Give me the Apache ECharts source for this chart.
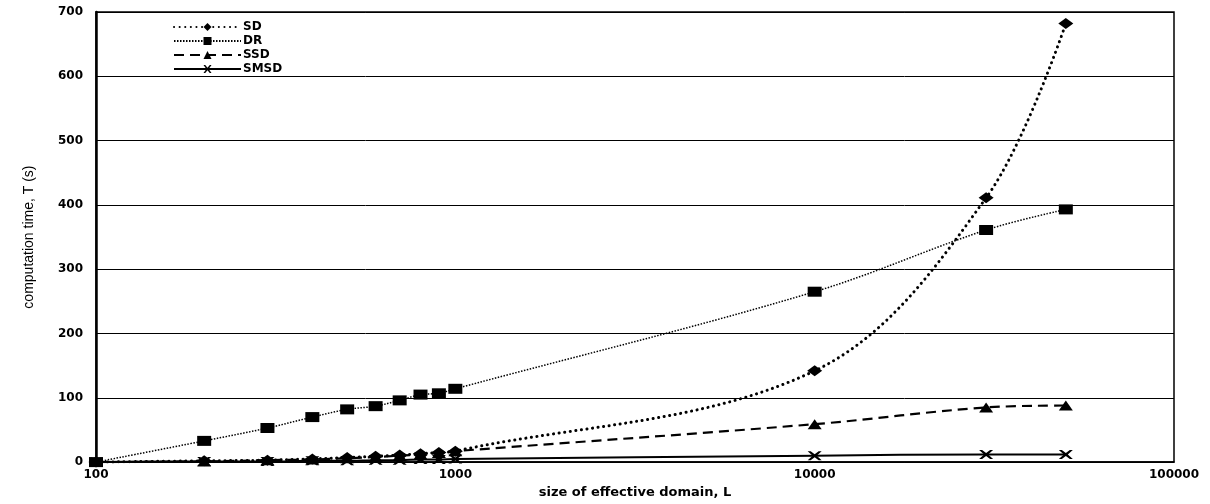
<!DOCTYPE html>
<html>
<head>
<meta charset="utf-8">
<script src="https://cdn.jsdelivr.net/npm/echarts@6/dist/echarts.min.js"></script>
<style>
  html, body { margin: 0; padding: 0; background: #fff; }
  #chart { width: 1210px; height: 504px; }
</style>
</head>
<body>
<div id="chart"></div>
<script>
// size of effective domain, L
var domainSize = [100, 200, 300, 400, 500, 600, 700, 800, 900, 1000, 10000, 30000, 50000];
// computation time, T (s)
var sdTime   = [0, 2, 3, 5, 7, 9, 11, 13, 15, 17, 142, 411, 682];
var drTime   = [0, 33, 53, 70, 82, 87, 96, 105, 107, 114, 265, 361, 393];
var ssdTime  = [0, 1, 3, 4, 6, 8, 10, 12, 14, 17, 59, 85, 88];
var smsdTime = [0, 1, 1, 2, 2, 3, 3, 4, 4, 5, 10, 12, 12];
var yTicks = [0, 100, 200, 300, 400, 500, 600, 700];

function pairs(ys) {
  return domainSize.map(function (x, i) { return [x, ys[i]]; });
}

var crossPath = 'path://M0,0 L3,0 L7,3 L11,0 L14,0 L9,4.5 L14,9 L11,9 L7,6 L3,9 L0,9 L5,4.5 Z';
var tickFont = { color: '#000', fontFamily: 'DejaVu Sans', fontWeight: 'bold', fontSize: 12 };

var chart = echarts.init(document.getElementById('chart'));
var option = {
  animation: false,
  backgroundColor: '#fff',
  grid: {
    left: 96, right: 36, top: 12, bottom: 37,
    show: true, borderColor: '#000', borderWidth: 1.5
  },
  legend: {
    orient: 'vertical',
    left: 168, top: 16,
    itemWidth: 67, itemHeight: 10, itemGap: 2,
    textStyle: { color: '#000', fontFamily: 'DejaVu Sans', fontWeight: 'bold', fontSize: 12, lineHeight: 10, padding: [0, 0, 0, -3] },
    data: ['SD', 'DR', 'SSD', 'SMSD']
  },
  xAxis: {
    type: 'log', logBase: 10, min: 100, max: 100000,
    name: 'size of effective domain, L',
    nameLocation: 'middle', nameGap: 22,
    nameTextStyle: { color: '#000', fontFamily: 'DejaVu Sans', fontWeight: 'bold', fontSize: 13 },
    axisLine: { lineStyle: { color: '#000', width: 1.5 } },
    axisTick: { show: false },
    axisLabel: Object.assign({ margin: 7, formatter: function (v) { return String(Math.round(v)); } }, tickFont),
    splitLine: { show: false },
    minorSplitLine: { show: false }
  },
  yAxis: {
    type: 'value', min: yTicks[0], max: yTicks[yTicks.length - 1], interval: 100,
    name: 'computation time, T (s)',
    nameLocation: 'middle', nameGap: 60,
    nameTextStyle: { color: '#000', fontFamily: 'Liberation Sans', fontSize: 14 },
    axisLine: { show: true, lineStyle: { color: '#000', width: 2.5 } },
    axisTick: { show: false },
    axisLabel: Object.assign({ margin: 13 }, tickFont),
    splitLine: { lineStyle: { color: '#000', width: 1 } }
  },
  series: [
    {
      name: 'SD', type: 'line', data: pairs(sdTime), smooth: 0.35,
      symbol: 'diamond', symbolSize: [15, 11],
      itemStyle: { color: '#000' },
      lineStyle: { color: '#000', width: 3, type: [0.1, 5.5], cap: 'round' }
    },
    {
      name: 'DR', type: 'line', data: pairs(drTime), smooth: 0.35,
      symbol: 'rect', symbolSize: [14, 10],
      itemStyle: { color: '#000' },
      lineStyle: { color: '#000', width: 1.5, type: [1.5, 1.5] }
    },
    {
      name: 'SSD', type: 'line', data: pairs(ssdTime), smooth: 0.35,
      symbol: 'triangle', symbolSize: [14, 10],
      itemStyle: { color: '#000' },
      lineStyle: { color: '#000', width: 2.2, type: [10, 6] }
    },
    {
      name: 'SMSD', type: 'line', data: pairs(smsdTime), smooth: 0.35,
      symbol: crossPath, symbolSize: [14, 9],
      itemStyle: { color: '#000' },
      lineStyle: { color: '#000', width: 2, type: 'solid' }
    }
  ]
};
chart.setOption(option);
</script>
</body>
</html>
